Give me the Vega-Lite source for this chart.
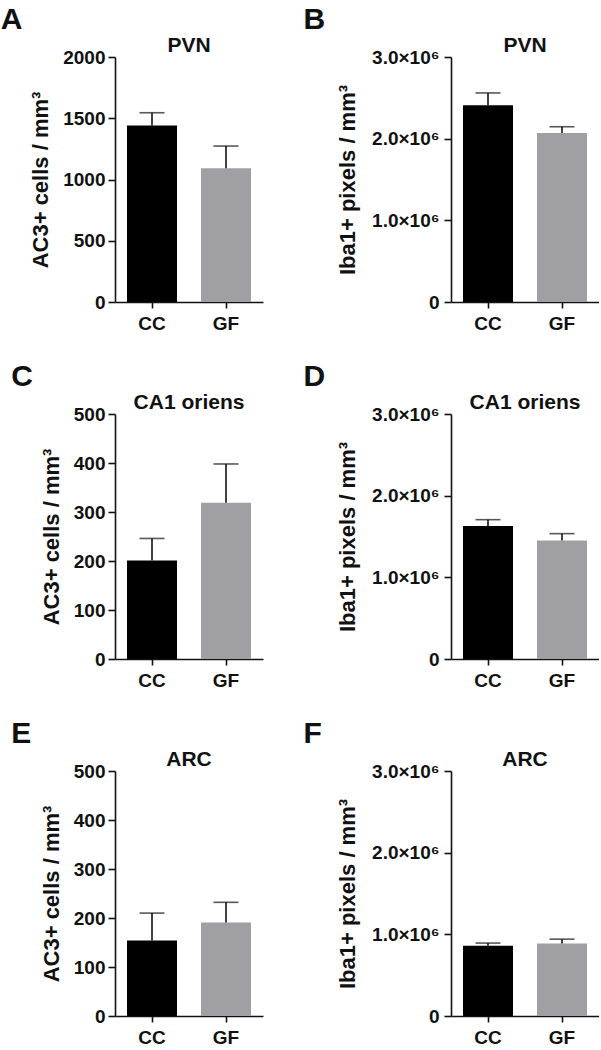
{
  "$schema": "https://vega.github.io/schema/vega-lite/v6.json",
  "padding": {"left": 0, "top": 5, "right": 0, "bottom": 0},
  "background": "white",
  "spacing": 29,
  "config": {
    "view": {"stroke": null},
    "font": "Liberation Sans",
    "axis": {
      "grid": false,
      "domainColor": "#111",
      "domainWidth": 1.6,
      "tickColor": "#111",
      "tickWidth": 1.6,
      "tickSize": 7,
      "labelFont": "Liberation Sans",
      "labelFontWeight": "bold",
      "labelFontSize": 19,
      "labelColor": "#111",
      "titleFont": "Liberation Sans",
      "titleFontWeight": "bold",
      "titleFontSize": 22,
      "titleColor": "#111"
    },
    "axisX": {"labelAngle": 0, "labelFontSize": 19, "labelPadding": 6, "tickSize": 6, "title": null},
    "title": {"font": "Liberation Sans", "fontWeight": "bold", "color": "#111"},
    "concat": {"spacing": 40}
  },
  "datasets": {
    "d": [
      {"panel": "A", "group": "CC", "mean": 1440, "upper": 1545},
      {"panel": "A", "group": "GF", "mean": 1092, "upper": 1273},
      {"panel": "B", "group": "CC", "mean": 2410000, "upper": 2560000},
      {"panel": "B", "group": "GF", "mean": 2070000, "upper": 2146000},
      {"panel": "C", "group": "CC", "mean": 201, "upper": 246},
      {"panel": "C", "group": "GF", "mean": 319, "upper": 398},
      {"panel": "D", "group": "CC", "mean": 1630000, "upper": 1706000},
      {"panel": "D", "group": "GF", "mean": 1450000, "upper": 1535000},
      {"panel": "E", "group": "CC", "mean": 154, "upper": 210},
      {"panel": "E", "group": "GF", "mean": 191, "upper": 232},
      {"panel": "F", "group": "CC", "mean": 860000, "upper": 893000},
      {"panel": "F", "group": "GF", "mean": 889000, "upper": 941000}
    ]
  },
  "vconcat": [
    {"hconcat": [
      {"title": {"text": "A", "anchor": "start", "fontSize": 30, "dx": -29, "offset": 0},
       "vconcat": [{
        "title": {"text": "PVN", "fontSize": 21, "offset": -8},
        "width": 148, "height": 245,
        "data": {"name": "d"},
        "transform": [{"filter": "datum.panel === 'A'"}],
        "encoding": {"x": {"field": "group", "type": "nominal", "sort": ["CC", "GF"], "scale": {"paddingInner": 0.324, "paddingOuter": 0.162}, "axis": {"title": null}}},
        "layer": [
          {"mark": {"type": "bar"}, "encoding": {"y": {"field": "mean", "type": "quantitative", "scale": {"domain": [0, 2000]}, "axis": {"title": "AC3+ cells / mm³", "values": [0, 500, 1000, 1500, 2000], "format": "d", "labelPadding": 3, "titlePadding": 10}}, "color": {"field": "group", "type": "nominal", "scale": {"domain": ["CC", "GF"], "range": ["#000000", "#a0a0a4"]}, "legend": null}}},
          {"mark": {"type": "rule", "color": "#111", "strokeWidth": 1.6}, "encoding": {"y": {"field": "mean", "type": "quantitative"}, "y2": {"field": "upper"}}},
          {"mark": {"type": "tick", "color": "#111", "thickness": 1.6, "size": 25, "orient": "horizontal"}, "encoding": {"y": {"field": "upper", "type": "quantitative"}}}
        ]
      }]},
      {"title": {"text": "B", "anchor": "start", "fontSize": 30, "dx": -33, "offset": 0},
       "vconcat": [{
        "title": {"text": "PVN", "fontSize": 21, "offset": -8},
        "width": 148, "height": 245,
        "data": {"name": "d"},
        "transform": [{"filter": "datum.panel === 'B'"}],
        "encoding": {"x": {"field": "group", "type": "nominal", "sort": ["CC", "GF"], "scale": {"paddingInner": 0.324, "paddingOuter": 0.162}, "axis": {"title": null}}},
        "layer": [
          {"mark": {"type": "bar"}, "encoding": {"y": {"field": "mean", "type": "quantitative", "scale": {"domain": [0, 3000000]}, "axis": {"title": "Iba1+ pixels / mm³", "values": [0, 1000000, 2000000, 3000000], "labelExpr": "datum.value == 0 ? '0' : format(datum.value / 1000000, '.1f') + '×10⁶'", "labelPadding": 5, "titlePadding": 12}}, "color": {"field": "group", "type": "nominal", "scale": {"domain": ["CC", "GF"], "range": ["#000000", "#a0a0a4"]}, "legend": null}}},
          {"mark": {"type": "rule", "color": "#111", "strokeWidth": 1.6}, "encoding": {"y": {"field": "mean", "type": "quantitative"}, "y2": {"field": "upper"}}},
          {"mark": {"type": "tick", "color": "#111", "thickness": 1.6, "size": 25, "orient": "horizontal"}, "encoding": {"y": {"field": "upper", "type": "quantitative"}}}
        ]
      }]}
    ]},
    {"hconcat": [
      {"title": {"text": "C", "anchor": "start", "fontSize": 30, "dx": -29, "offset": 0},
       "vconcat": [{
        "title": {"text": "CA1 oriens", "fontSize": 21, "offset": -8},
        "width": 148, "height": 245,
        "data": {"name": "d"},
        "transform": [{"filter": "datum.panel === 'C'"}],
        "encoding": {"x": {"field": "group", "type": "nominal", "sort": ["CC", "GF"], "scale": {"paddingInner": 0.324, "paddingOuter": 0.162}, "axis": {"title": null}}},
        "layer": [
          {"mark": {"type": "bar"}, "encoding": {"y": {"field": "mean", "type": "quantitative", "scale": {"domain": [0, 500]}, "axis": {"title": "AC3+ cells / mm³", "values": [0, 100, 200, 300, 400, 500], "labelPadding": 3, "titlePadding": 10}}, "color": {"field": "group", "type": "nominal", "scale": {"domain": ["CC", "GF"], "range": ["#000000", "#a0a0a4"]}, "legend": null}}},
          {"mark": {"type": "rule", "color": "#111", "strokeWidth": 1.6}, "encoding": {"y": {"field": "mean", "type": "quantitative"}, "y2": {"field": "upper"}}},
          {"mark": {"type": "tick", "color": "#111", "thickness": 1.6, "size": 25, "orient": "horizontal"}, "encoding": {"y": {"field": "upper", "type": "quantitative"}}}
        ]
      }]},
      {"title": {"text": "D", "anchor": "start", "fontSize": 30, "dx": -33, "offset": 0},
       "vconcat": [{
        "title": {"text": "CA1 oriens", "fontSize": 21, "offset": -8},
        "width": 148, "height": 245,
        "data": {"name": "d"},
        "transform": [{"filter": "datum.panel === 'D'"}],
        "encoding": {"x": {"field": "group", "type": "nominal", "sort": ["CC", "GF"], "scale": {"paddingInner": 0.324, "paddingOuter": 0.162}, "axis": {"title": null}}},
        "layer": [
          {"mark": {"type": "bar"}, "encoding": {"y": {"field": "mean", "type": "quantitative", "scale": {"domain": [0, 3000000]}, "axis": {"title": "Iba1+ pixels / mm³", "values": [0, 1000000, 2000000, 3000000], "labelExpr": "datum.value == 0 ? '0' : format(datum.value / 1000000, '.1f') + '×10⁶'", "labelPadding": 5, "titlePadding": 12}}, "color": {"field": "group", "type": "nominal", "scale": {"domain": ["CC", "GF"], "range": ["#000000", "#a0a0a4"]}, "legend": null}}},
          {"mark": {"type": "rule", "color": "#111", "strokeWidth": 1.6}, "encoding": {"y": {"field": "mean", "type": "quantitative"}, "y2": {"field": "upper"}}},
          {"mark": {"type": "tick", "color": "#111", "thickness": 1.6, "size": 25, "orient": "horizontal"}, "encoding": {"y": {"field": "upper", "type": "quantitative"}}}
        ]
      }]}
    ]},
    {"hconcat": [
      {"title": {"text": "E", "anchor": "start", "fontSize": 30, "dx": -29, "offset": 0},
       "vconcat": [{
        "title": {"text": "ARC", "fontSize": 21, "offset": -8},
        "width": 148, "height": 245,
        "data": {"name": "d"},
        "transform": [{"filter": "datum.panel === 'E'"}],
        "encoding": {"x": {"field": "group", "type": "nominal", "sort": ["CC", "GF"], "scale": {"paddingInner": 0.324, "paddingOuter": 0.162}, "axis": {"title": null}}},
        "layer": [
          {"mark": {"type": "bar"}, "encoding": {"y": {"field": "mean", "type": "quantitative", "scale": {"domain": [0, 500]}, "axis": {"title": "AC3+ cells / mm³", "values": [0, 100, 200, 300, 400, 500], "labelPadding": 3, "titlePadding": 10}}, "color": {"field": "group", "type": "nominal", "scale": {"domain": ["CC", "GF"], "range": ["#000000", "#a0a0a4"]}, "legend": null}}},
          {"mark": {"type": "rule", "color": "#111", "strokeWidth": 1.6}, "encoding": {"y": {"field": "mean", "type": "quantitative"}, "y2": {"field": "upper"}}},
          {"mark": {"type": "tick", "color": "#111", "thickness": 1.6, "size": 25, "orient": "horizontal"}, "encoding": {"y": {"field": "upper", "type": "quantitative"}}}
        ]
      }]},
      {"title": {"text": "F", "anchor": "start", "fontSize": 30, "dx": -33, "offset": 0},
       "vconcat": [{
        "title": {"text": "ARC", "fontSize": 21, "offset": -8},
        "width": 148, "height": 245,
        "data": {"name": "d"},
        "transform": [{"filter": "datum.panel === 'F'"}],
        "encoding": {"x": {"field": "group", "type": "nominal", "sort": ["CC", "GF"], "scale": {"paddingInner": 0.324, "paddingOuter": 0.162}, "axis": {"title": null}}},
        "layer": [
          {"mark": {"type": "bar"}, "encoding": {"y": {"field": "mean", "type": "quantitative", "scale": {"domain": [0, 3000000]}, "axis": {"title": "Iba1+ pixels / mm³", "values": [0, 1000000, 2000000, 3000000], "labelExpr": "datum.value == 0 ? '0' : format(datum.value / 1000000, '.1f') + '×10⁶'", "labelPadding": 5, "titlePadding": 12}}, "color": {"field": "group", "type": "nominal", "scale": {"domain": ["CC", "GF"], "range": ["#000000", "#a0a0a4"]}, "legend": null}}},
          {"mark": {"type": "rule", "color": "#111", "strokeWidth": 1.6}, "encoding": {"y": {"field": "mean", "type": "quantitative"}, "y2": {"field": "upper"}}},
          {"mark": {"type": "tick", "color": "#111", "thickness": 1.6, "size": 25, "orient": "horizontal"}, "encoding": {"y": {"field": "upper", "type": "quantitative"}}}
        ]
      }]}
    ]}
  ]
}
